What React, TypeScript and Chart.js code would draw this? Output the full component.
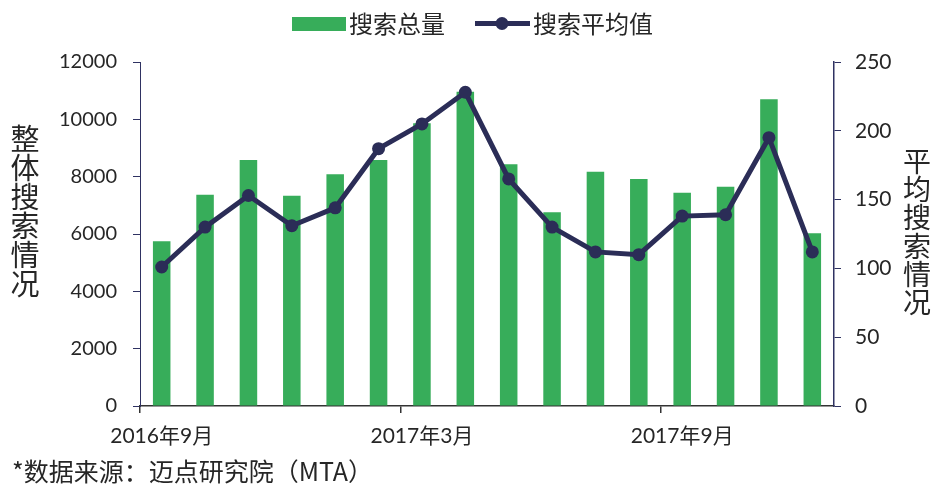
import React, { useEffect, useRef } from "react";
import { Chart, registerables } from "chart.js";

Chart.register(...registerables);

const months: string[] = [
  "2016年9月", "2016年10月", "2016年11月", "2016年12月",
  "2017年1月", "2017年2月", "2017年3月", "2017年4月",
  "2017年5月", "2017年6月", "2017年7月", "2017年8月",
  "2017年9月", "2017年10月", "2017年11月", "2017年12月",
];
const totalSearch: number[] = [
  5750, 7370, 8580, 7330, 8080, 8580, 9860, 10960,
  8430, 6760, 8170, 7920, 7440, 7650, 10700, 6030,
];
const avgSearch: number[] = [
  101, 130, 153, 131, 144, 187, 205, 228,
  165, 130, 112, 110, 138, 139, 195, 112,
];
const shownTickIndices: number[] = [0, 6, 12];
const barLabel = "搜索总量";
const lineLabel = "搜索平均值";
const leftTitle = "整体搜索情况";
const rightTitle = "平均搜索情况";
const footnote = "*数据来源：迈点研究院（MTA）";

const GREEN = "#37ad5a";
const NAVY = "#2b2d57";
const AXIS = "#2f3262";
const TEXT = "#262626";
const CJK = "'Noto Sans CJK SC', 'Noto Sans', sans-serif";
const NUM = "Lato, 'Noto Sans CJK SC', sans-serif";

const decorPlugin = {
  id: "decor",
  afterDraw(chart: any) {
    const ctx = chart.ctx as CanvasRenderingContext2D;
    ctx.save();
    // legend
    ctx.fillStyle = GREEN;
    ctx.fillRect(292, 17, 54, 14);
    ctx.fillStyle = TEXT;
    ctx.font = `24px ${CJK}`;
    ctx.textBaseline = "middle";
    ctx.textAlign = "left";
    ctx.fillText(barLabel, 349, 23.5);
    ctx.strokeStyle = NAVY;
    ctx.lineWidth = 5;
    ctx.beginPath();
    ctx.moveTo(475, 23.5);
    ctx.lineTo(530, 23.5);
    ctx.stroke();
    ctx.fillStyle = NAVY;
    ctx.beginPath();
    ctx.arc(502, 23.5, 6.5, 0, Math.PI * 2);
    ctx.fill();
    ctx.fillStyle = TEXT;
    ctx.fillText(lineLabel, 533, 23.5);

    // axis titles (stacked characters)
    ctx.textAlign = "center";
    ctx.font = `29px ${CJK}`;
    Array.from(leftTitle).forEach((ch, i) => {
      ctx.fillText(ch, 25, 139 + i * 29);
    });
    ctx.font = `28px ${CJK}`;
    Array.from(rightTitle).forEach((ch, i) => {
      ctx.fillText(ch, 917, 161 + i * 28.3);
    });

    // footnote
    ctx.textAlign = "left";
    ctx.font = `25px ${CJK}`;
    ctx.fillText(footnote, 12, 471);
    ctx.restore();
  },
};

export default function App() {
  const ref = useRef<HTMLCanvasElement | null>(null);

  useEffect(() => {
    if (!ref.current) return;
    const chart = new Chart(ref.current, {
      type: "bar",
      data: {
        labels: months,
        datasets: [
          {
            type: "line",
            label: lineLabel,
            data: avgSearch,
            yAxisID: "y1",
            borderColor: NAVY,
            backgroundColor: NAVY,
            borderWidth: 5,
            pointRadius: 6.5,
            pointBackgroundColor: NAVY,
            pointBorderWidth: 0,
            tension: 0,
            order: 0,
          } as any,
          {
            type: "bar",
            label: barLabel,
            data: totalSearch,
            yAxisID: "y",
            backgroundColor: GREEN,
            barPercentage: 0.404,
            categoryPercentage: 1,
            order: 1,
          } as any,
        ],
      },
      options: {
        animation: false,
        responsive: true,
        maintainAspectRatio: false,
        layout: { padding: { top: 62, bottom: 38, left: 0, right: 0 } },
        plugins: {
          legend: { display: false },
          tooltip: { enabled: false },
        },
        scales: {
          x: {
            offset: true,
            afterFit: (s: any) => { s.height = 40; },
            grid: {
              offset: true,
              drawOnChartArea: false,
              drawTicks: true,
              tickLength: 7,
              lineWidth: 1.5,
              color: (c: any) => (shownTickIndices.includes(c.index) ? "#333" : "rgba(0,0,0,0)"),
            },
            border: { display: true, color: "#333", width: 1.5 },
            ticks: {
              autoSkip: false,
              maxRotation: 0,
              minRotation: 0,
              padding: 11,
              color: TEXT,
              font: { family: NUM, size: 21 },
              callback: (_v: any, i: number) => (shownTickIndices.includes(i) ? months[i] : ""),
            },
          },
          y: {
            position: "left",
            min: 0,
            max: 12000,
            afterFit: (s: any) => { s.width = 140; },
            grid: {
              drawOnChartArea: false,
              drawTicks: true,
              tickLength: 7,
              color: AXIS,
            },
            border: { display: true, color: AXIS, width: 1 },
            ticks: {
              stepSize: 2000,
              padding: 16,
              color: TEXT,
              font: { family: NUM, size: 20 },
              callback: (v: any) => String(v),
            },
          },
          y1: {
            position: "right",
            min: 0,
            max: 250,
            afterFit: (s: any) => { s.width = 102; },
            grid: {
              drawOnChartArea: false,
              drawTicks: true,
              tickLength: 7,
              color: AXIS,
            },
            border: { display: true, color: AXIS, width: 1.5 },
            ticks: {
              stepSize: 50,
              padding: 14,
              color: TEXT,
              font: { family: NUM, size: 21 },
              callback: (v: any) => String(v),
            },
          },
        },
      },
      plugins: [decorPlugin],
    });
    return () => chart.destroy();
  }, []);

  return (
    <div style={{ position: "absolute", left: 0, top: 0, width: 936, height: 484, background: "#fff" }}>
      <canvas ref={ref} />
    </div>
  );
}
